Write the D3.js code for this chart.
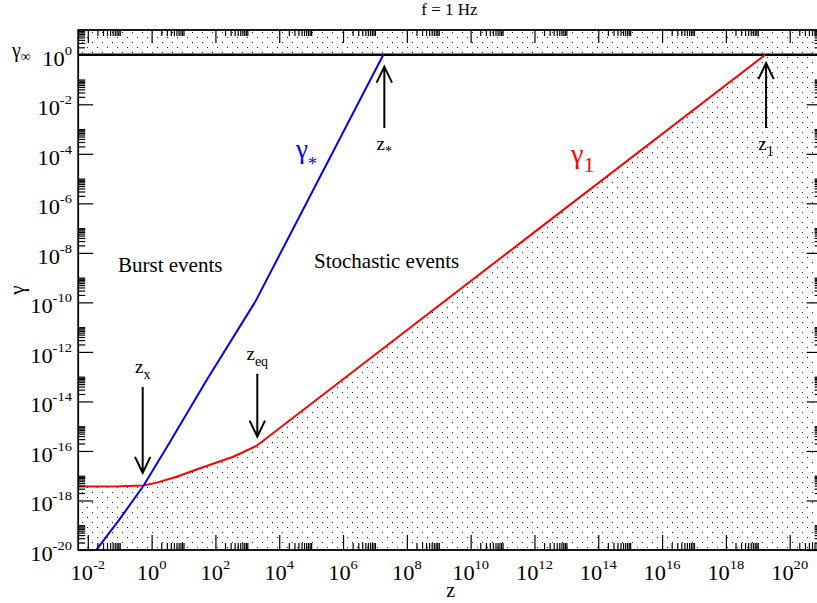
<!DOCTYPE html>
<html><head><meta charset="utf-8">
<script src="https://cdn.jsdelivr.net/npm/d3@7"></script>
<style>body{margin:0;background:#fff}svg{display:block}</style>
</head><body><svg id="c" width="817" height="603" font-family="'Liberation Serif','Times New Roman','DejaVu Serif',serif"></svg>
<script>
// ---- data ----
const gammaStarZ = [0.01, 0.1, 0.55, 3.16, 53.3, 1800, 1.83e7];
const gammaStarG = [3.55e-21, 1.78e-19, 3.85e-18, 1.58e-16, 7.35e-14, 1.1e-10, 1];
const gamma1Z = [5e-3, 0.1, 0.55, 1.45, 6.12, 32.9, 364, 1970, 1.26e12, 1.7e19];
const gamma1G = [3.63e-18, 3.72e-18, 4.07e-18, 5.25e-18, 9.12e-18, 2.0e-17, 5.86e-17, 1.62e-16, 8.7e-8, 1];
const gammaInf = 1;
const xMajor = [-2,0,2,4,6,8,10,12,14,16,18,20];
const yMajor = [-20,-18,-16,-14,-12,-10,-8,-6,-4,-2,0];
const arrowZ = [0.525, 2055, 1.97e7, 1.82e19];
const arrowFrom = [3.8e-14, 1.3e-13, 1.1e-3, 1.1e-3];
const arrowTo = [1.3e-17, 3.8e-16, 0.33, 0.46];
const arrowNames = ["x", "eq", "*", "1"];

const svg = d3.select("#c");
const L = 78.2, R = 821.6, T = 30, B = 550;
const x = d3.scaleLog().domain([5e-3, 1e21]).range([L, R]);
const y = d3.scaleLog().domain([1e-20, 1e1]).range([B, T]);

function minors(majors, lo, hi) {
  const out = [];
  majors.concat([majors[majors.length-1]+2]).forEach(k => {
    for (let m = 2; m <= 10; m++) { const v = m * Math.pow(10, k); if (v > lo && v < hi) out.push(v); }
  });
  return out;
}
const xMin = minors([-4].concat(xMajor), 5e-3, 1e21);
const yMin = minors([-22].concat(yMajor), 1e-20, 1e1);

const defs = svg.append("defs");
const pat = defs.append("pattern").attr("id","dots").attr("patternUnits","userSpaceOnUse")
  .attr("width",10).attr("height",10);
pat.append("rect").attr("x",2).attr("y",2).attr("width",1).attr("height",1).attr("fill","#222");
pat.append("rect").attr("x",7).attr("y",7).attr("width",1).attr("height",1).attr("fill","#222");
defs.append("clipPath").attr("id","clip").append("rect").attr("x",L).attr("y",T).attr("width",R-L).attr("height",B-T);

const plot = svg.append("g").attr("clip-path","url(#clip)");
plot.append("rect").attr("x",L).attr("y",T).attr("width",R-L).attr("height",y(gammaInf)-T).attr("fill","url(#dots)");
const g1 = gamma1Z.map((z,i)=>[z, gamma1G[i]]);
const area = d3.area().x(d=>x(d[0])).y0(B).y1(d=>y(d[1]));
plot.append("path").datum(g1.concat([[1e21, 1]])).attr("d", area).attr("fill","url(#dots)");

plot.append("line").attr("x1",L).attr("x2",R).attr("y1",y(gammaInf)).attr("y2",y(gammaInf))
  .attr("stroke","#000").attr("stroke-width",2.5);

const line = d3.line().x(d=>x(d[0])).y(d=>y(d[1]));
plot.append("path").datum(g1).attr("d",line).attr("fill","none").attr("stroke","#ff0000").attr("stroke-width",2);
const gs = gammaStarZ.map((z,i)=>[z, gammaStarG[i]]);
plot.append("path").datum(gs).attr("d",line).attr("fill","none").attr("stroke","#0000ff").attr("stroke-width",2);

function ax(gen, vals, size, tr) {
  const a = gen.tickValues(vals).tickSize(-size).tickFormat("");
  const g = svg.append("g").attr("transform", tr).call(a);
  g.select(".domain").remove();
  g.selectAll("line").attr("stroke","#000").attr("stroke-width",1.2);
}
const xMajV = xMajor.map(k=>Math.pow(10,k)), yMajV = yMajor.map(k=>Math.pow(10,k));
ax(d3.axisBottom(x), xMajV, 15, `translate(0,${B})`);
ax(d3.axisBottom(x), xMin, 7, `translate(0,${B})`);
ax(d3.axisTop(x), xMajV, 13, `translate(0,${T})`);
ax(d3.axisTop(x), xMin, 6, `translate(0,${T})`);
ax(d3.axisLeft(y), yMajV, 15, `translate(${L},0)`);
ax(d3.axisLeft(y), yMin, 7, `translate(${L},0)`);
ax(d3.axisRight(y), yMajV, 15, `translate(${R},0)`);
ax(d3.axisRight(y), yMin, 7, `translate(${R},0)`);
svg.append("rect").attr("x",L).attr("y",T).attr("width",R-L).attr("height",B-T)
  .attr("fill","none").attr("stroke","#000").attr("stroke-width",1.8);

const SX = 1.12;
function powLabel(px, py, k, anchor) {
  const g = svg.append("g").attr("transform",`translate(${px},${py}) scale(${SX},1)`);
  const t = g.append("text").attr("text-anchor",anchor).attr("font-size",20).attr("fill","#000");
  t.append("tspan").text("10");
  t.append("tspan").attr("font-size",13).attr("dy",-11).text(String(k));
}
xMajor.forEach(k => powLabel(x(Math.pow(10,k)), 580, k, "middle"));
yMajor.forEach(k => powLabel(72, y(Math.pow(10,k)) + 11, k, "end"));

function txt(px, py, s, size, color, anchor) {
  return svg.append("text").attr("x",px).attr("y",py).attr("font-size",size).attr("fill",color||"#000")
    .attr("text-anchor",anchor||"start").text(s);
}
txt(449.5, 15, "f = 1 Hz", 17, "#000", "middle");
txt(450.7, 597, "z", 20, "#000", "middle");
svg.append("text").attr("transform","translate(24,290) rotate(-90)").attr("font-size",21)
  .attr("text-anchor","middle").text("γ");
const gi = svg.append("text").attr("x",12).attr("y",57).attr("font-size",20);
gi.append("tspan").text("γ");
gi.append("tspan").attr("font-size",14).attr("dy",4).text("∞");

txt(118, 272, "Burst events", 21);
txt(314, 268, "Stochastic events", 21);

const gsl = svg.append("text").attr("x",296).attr("y",158).attr("font-size",27).attr("fill","#0000ff");
gsl.append("tspan").text("γ");
gsl.append("tspan").attr("font-size",18).attr("dy",12).text("*");
const g1l = svg.append("text").attr("x",571).attr("y",163).attr("font-size",28).attr("fill","#ff0000");
g1l.append("tspan").text("γ");
g1l.append("tspan").attr("font-size",22).attr("dy",9).text("1");

arrowZ.forEach((z,i) => {
  const ax0 = x(z), y0 = y(arrowFrom[i]), y1 = y(arrowTo[i]);
  const dir = y1 > y0 ? 1 : -1;
  svg.append("path").attr("d",`M${ax0},${y0}L${ax0},${y1}M${ax0-7.7},${y1-dir*16}L${ax0},${y1}L${ax0+7.7},${y1-dir*16}`)
    .attr("fill","none").attr("stroke","#000").attr("stroke-width",2);
  const ly = dir > 0 ? y0 - 14 : y0 + 22;
  const t = svg.append("text").attr("x",ax0).attr("y",ly).attr("font-size",19).attr("text-anchor","middle");
  t.append("tspan").text("z");
  t.append("tspan").attr("font-size",14).attr("dy",6).text(arrowNames[i]);
});
</script></body></html>
